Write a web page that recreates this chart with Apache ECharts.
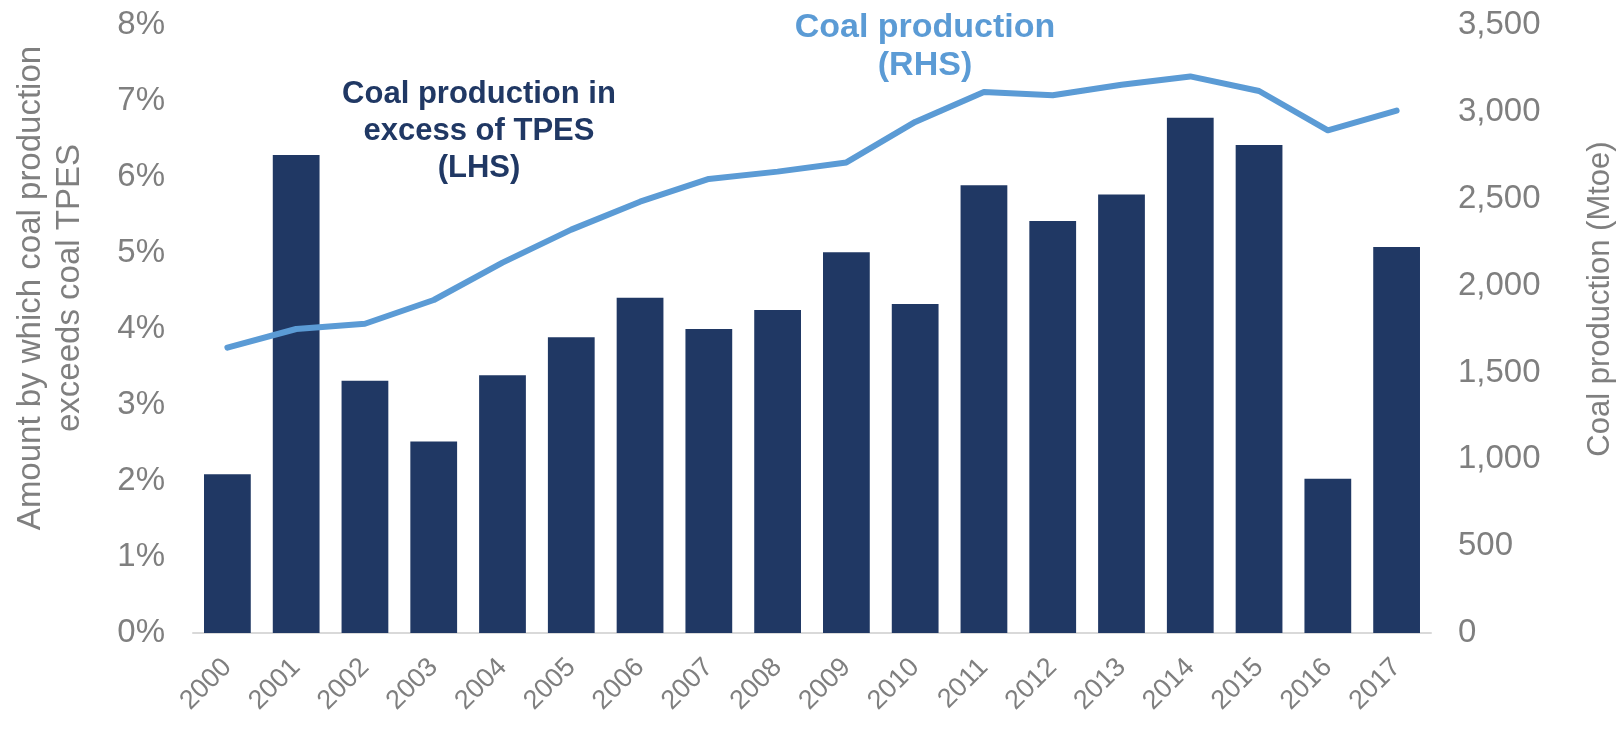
<!DOCTYPE html>
<html>
<head>
<meta charset="utf-8">
<script src="https://cdn.jsdelivr.net/npm/echarts@6/dist/echarts.min.js"></script>
<style>
html,body{margin:0;padding:0;background:#fff;}
#chart{width:1622px;height:732px;}
</style>
</head>
<body>
<div id="chart"></div>
<script>
const years = ['2000','2001','2002','2003','2004','2005','2006','2007','2008','2009','2010','2011','2012','2013','2014','2015','2016','2017'];
const excessPct = [2.09, 6.29, 3.32, 2.52, 3.39, 3.89, 4.41, 4.00, 4.25, 5.01, 4.33, 5.89, 5.42, 5.77, 6.78, 6.42, 2.03, 5.08];
const productionMtoe = [1643, 1750, 1780, 1917, 2132, 2322, 2483, 2614, 2656, 2709, 2942, 3115, 3096, 3156, 3204, 3120, 2894, 3007];
const leftTitle = 'Amount by which coal production\nexceeds coal TPES';
const rightTitle = 'Coal production (Mtoe)';
const barNote = 'Coal production in\nexcess of TPES\n(LHS)';
const lineNote = 'Coal production\n(RHS)';

const FONT = "'Liberation Sans', Arial, sans-serif";
const GREY = '#7f7f7f';
const NAVY = '#203864';
const BLUE = '#5b9bd5';

const chart = echarts.init(document.getElementById('chart'), null, {renderer: 'canvas'});
chart.setOption({
  animation: false,
  backgroundColor: '#ffffff',
  grid: {left: 193, right: 191, top: 25, bottom: 99, containLabel: false},
  xAxis: {
    type: 'category',
    data: years,
    axisLine: {show: true, lineStyle: {color: '#d9d9d9', width: 2}},
    axisTick: {show: false},
    axisLabel: {rotate: 45, fontSize: 27, color: GREY, fontFamily: FONT, margin: 30, interval: 0}
  },
  yAxis: [
    {
      type: 'value', min: 0, max: 8, interval: 1,
      splitLine: {show: false}, axisLine: {show: false}, axisTick: {show: false},
      axisLabel: {formatter: '{value}%', fontSize: 33, color: GREY, fontFamily: FONT, margin: 28}
    },
    {
      type: 'value', min: 0, max: 3500, interval: 500, position: 'right',
      splitLine: {show: false}, axisLine: {show: false}, axisTick: {show: false},
      axisLabel: {formatter: v => v.toLocaleString('en-US'), fontSize: 33, color: GREY, fontFamily: FONT, margin: 27}
    }
  ],
  series: [
    {
      type: 'bar', data: excessPct, yAxisIndex: 0,
      barCategoryGap: '32%',
      itemStyle: {color: NAVY}
    },
    {
      type: 'line', data: productionMtoe, yAxisIndex: 1,
      symbol: 'none', smooth: false,
      lineStyle: {color: BLUE, width: 6, cap: 'round', join: 'round'}
    }
  ],
  graphic: [
    {type: 'text', x: 50, y: 288, rotation: Math.PI / 2,
     style: {text: leftTitle, font: "33px " + FONT, fill: GREY, textAlign: 'center', textVerticalAlign: 'middle', lineHeight: 39}},
    {type: 'text', x: 1600, y: 299, rotation: Math.PI / 2,
     style: {text: rightTitle, font: "31px " + FONT, fill: GREY, textAlign: 'center', textVerticalAlign: 'middle'}},
    {type: 'text', x: 479, y: 131,
     style: {text: barNote, font: "bold 31px " + FONT, fill: NAVY, textAlign: 'center', textVerticalAlign: 'middle', lineHeight: 37}},
    {type: 'text', x: 925, y: 47,
     style: {text: lineNote, font: "bold 34px " + FONT, fill: BLUE, textAlign: 'center', textVerticalAlign: 'middle', lineHeight: 38}}
  ]
});
</script>
</body>
</html>
